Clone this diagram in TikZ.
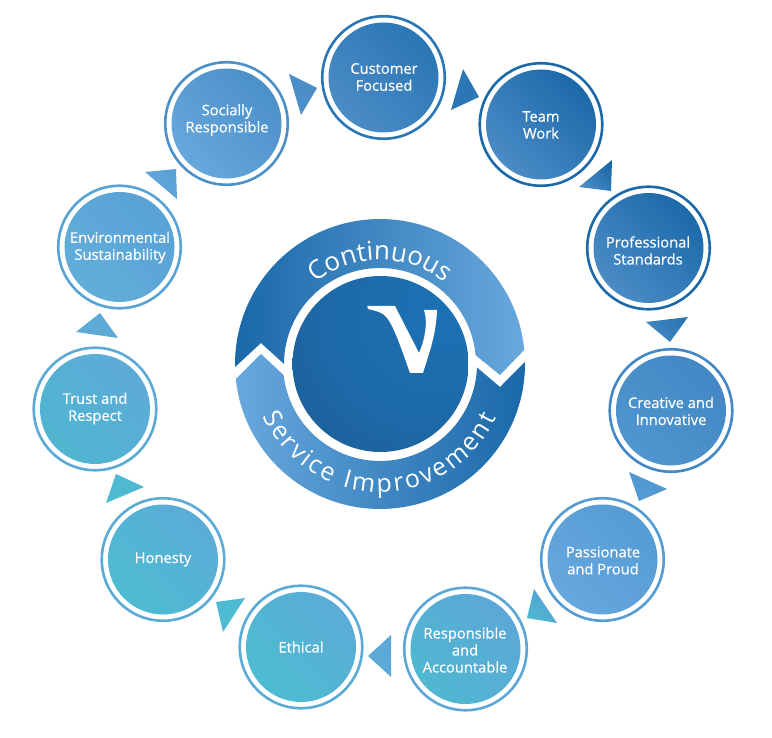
\documentclass[tikz,border=0pt]{standalone}
\usepackage{fontspec}
\setmainfont{Open Sans}
\newfontfamily\lblfont[FakeBold=0.5]{Open Sans}
\newfontfamily\ringfont{Open Sans}
\usetikzlibrary{decorations.text}
\pgfdeclareradialshading{vball}{\pgfpoint{20bp}{18bp}}{
  color(0bp)=(rgb,255:red,28;green,114;blue,180);
  color(30bp)=(rgb,255:red,29;green,105;blue,168);
  color(45bp)=(rgb,255:red,29;green,95;blue,154);
  color(58bp)=(rgb,255:red,22;green,78;blue,128);
  color(70bp)=(rgb,255:red,13;green,56;blue,94);
  color(100bp)=(rgb,255:red,13;green,56;blue,94)}
\tikzset{
  vring/.style={circle,draw=#1,line width=2.6pt,fill=white,minimum size=122.5pt,inner sep=0pt,outer sep=0pt},
  vdisc/.style={circle,minimum size=110pt,inner sep=0pt,outer sep=0pt},
  vlabel/.style={text=white,align=center,font=\lblfont\fontsize{14.7}{17}\selectfont,inner sep=0pt},
  vdiag/.style 2 args={top color=#1,bottom color=#2,shading angle=135},
}
% #1 name, #2 centre, #3 ring colour, #4 lower-left colour, #5 upper-right colour
\newcommand{\valcircle}[5]{%
  \node[vring=#3] (#1-ring) at (#2) {};
  \node[vdisc,vdiag={#4}{#5}] (#1) at (#2) {};
}
% #1,#2,#3 corners, #4 lower-left colour, #5 upper-right colour
\newcommand{\valtri}[5]{%
  \shade[vdiag={#4}{#5}] (#1) -- (#2) -- (#3) -- cycle;
}
\definecolor{c1a}{HTML}{1C69A9}\definecolor{c1b}{HTML}{4A8CC6}
\definecolor{c2a}{HTML}{2B76B4}\definecolor{c2b}{HTML}{4A8CC6}
\definecolor{c3a}{HTML}{4388C4}\definecolor{c3b}{HTML}{4F95CF}
\definecolor{c4a}{HTML}{559CD4}\definecolor{c4b}{HTML}{66A7DD}
\definecolor{c5a}{HTML}{5CA7D8}\definecolor{c5b}{HTML}{4FB8D0}
\definecolor{c6a}{HTML}{5AACD6}\definecolor{c6b}{HTML}{4DBCD2}
\definecolor{c7a}{HTML}{5DAAD7}\definecolor{c7b}{HTML}{50B6D1}
\definecolor{c8a}{HTML}{58A2D6}\definecolor{c8b}{HTML}{62AEDA}
\definecolor{c9a}{HTML}{4C90C9}\definecolor{c9b}{HTML}{66A8DC}
\definecolor{arcdark}{HTML}{1A68A9}\definecolor{arclight}{HTML}{68A8DD}
\begin{document}
\begin{tikzpicture}[x=1pt,y=-1pt]
\useasboundingbox (0,0) rectangle (772,738);
\fill[white] (0,0) rectangle (772,738);

% Outer circles
\valcircle{customer}{383.5,77.5}{c2a}{c2b}{c2a}
\valcircle{team}{541,124.5}{c1a}{c1b}{c1a}
\valcircle{professional}{648.5,248}{c1a}{c1b}{c1a}
\valcircle{creative}{671,410.5}{c3a}{c3b}{c3a}
\valcircle{passionate}{602.5,559.5}{c4a}{c4b}{c4a}
\valcircle{responsible}{465.5,649}{c5a}{c5b}{c5a}
\valcircle{ethical}{301,647}{c6a}{c6b}{c6a}
\valcircle{honesty}{163,559.5}{c6a}{c6b}{c6a}
\valcircle{trust}{95,409}{c7a}{c7b}{c7a}
\valcircle{environmental}{119.5,247}{c8a}{c8b}{c8a}
\valcircle{socially}{226.5,123.5}{c9a}{c9b}{c9a}

\node[vlabel] (customer-t) at (384,77) {Customer\\Focused};
\node[vlabel] (team-t) at (541,125) {Team\\Work};
\node[vlabel] (professional-t) at (648,250.5) {Professional\\Standards};
\node[vlabel] (creative-t) at (671,411) {Creative and\\Innovative};
\node[vlabel] (passionate-t) at (603,560.5) {Passionate\\and Proud};
\node[vlabel] (responsible-t) at (465,650) {Responsible\\and\\Accountable};
\node[vlabel] (ethical-t) at (301,647) {Ethical};
\node[vlabel] (honesty-t) at (163,559.5) {Honesty};
\node[vlabel] (trust-t) at (95,408.5) {Trust and\\Respect};
\node[vlabel] (environmental-t) at (120,247.5) {Environmental\\Sustainability};
\node[vlabel] (socially-t) at (227,120) {Socially\\Responsible};

% Arrow triangles
\valtri{289,74}{317,88}{301,115}{c9a}{c2b}
\valtri{463,69}{479,97}{451,110}{c2a}{c2a}
\valtri{612,160}{579,187}{611,191}{c1b}{c1a}
\valtri{646,322}{688,317}{670,342}{c3a}{c2a}
\valtri{629,472}{667,489}{639,501}{c4a}{c3b}
\valtri{534,589}{557,623}{527,618}{c5b}{c4a}
\valtri{391,635}{368,656}{391,677}{c6a}{c5a}
\valtri{245,598}{216,602}{223,632}{c6b}{c6b}
\valtri{116,474}{144,487}{106,503}{c6b}{c7b}
\valtri{100,313}{118,338}{76,332}{c7a}{c7a}
\valtri{145,172}{176,169}{177,199}{c4b}{c8a}

% Central arcs
\shade[left color=arcdark,right color=arclight]
  plot[domain=178.8:354.4,samples=90] ({380+145*cos(\x)},{364+145*sin(\x)})
  -- (500,375)
  -- plot[domain=354.7:180,samples=90] ({380+96*cos(\x)},{364+96*sin(\x)})
  -- (261,343) -- cycle;
\shade[left color=arclight,right color=arcdark]
  plot[domain=174:-0.8,samples=90] ({380+145*cos(\x)},{364+145*sin(\x)})
  -- (500,387)
  -- plot[domain=2:173.4,samples=90] ({380+97*cos(\x)},{364+97*sin(\x)})
  -- (261,354) -- cycle;

% Curved words
\path[decorate,decoration={text along path,text align=center,
  text={|\color{white}\ringfont\fontsize{26}{30}\selectfont|Continuous}}]
  plot[domain=205:335,samples=80] ({380+104*cos(\x)},{364+104*sin(\x)});
\path[decorate,decoration={text along path,text align={fit to path},
  text={|\color{white}\ringfont\fontsize{25}{30}\selectfont|Service Improvement}}]
  plot[domain=156:25,samples=90] ({380+128*cos(\x)},{364+128*sin(\x)});

% Ball and V
\node[circle,minimum size=176pt,inner sep=0pt,outer sep=0pt,shade,shading=vball] (ball) at (380.5,364) {};
\fill[white] (367.3,306) -- (395,306) -- (419,353)
  .. controls (425,340) and (428,322) .. (424,310)
  -- (437,310)
  .. controls (436,335) and (430,350) .. (423,373)
  -- (410,373)
  .. controls (400,345) and (392,320) .. (383,314)
  .. controls (378,311) and (372,310) .. (368,309) -- cycle;
\end{tikzpicture}
\end{document}
